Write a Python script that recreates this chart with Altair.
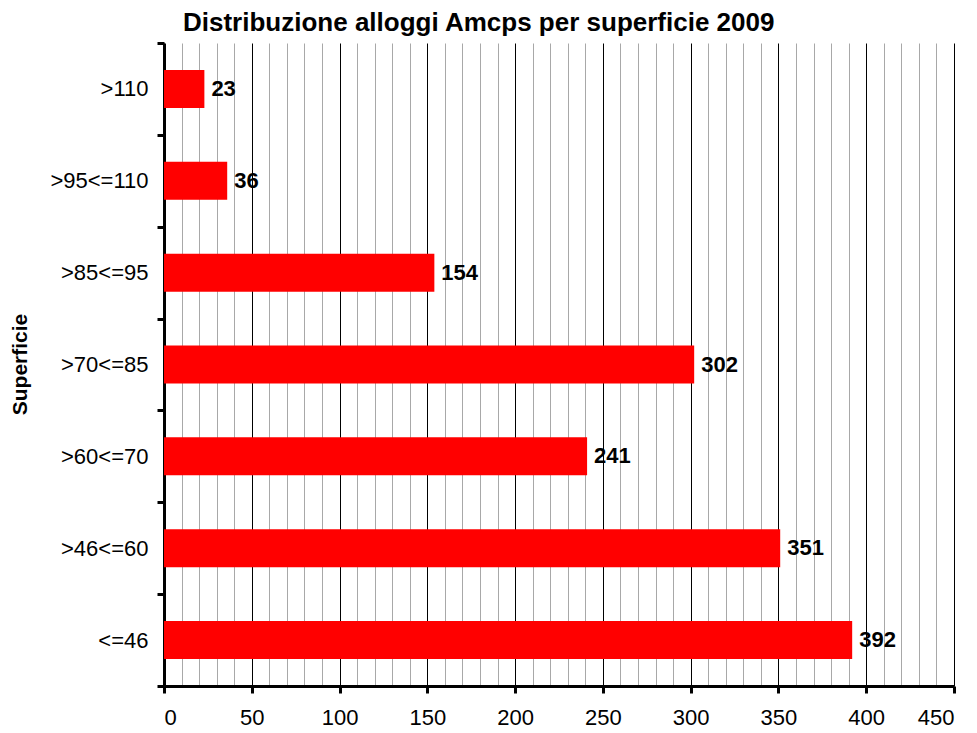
import altair as alt
import pandas as pd

categories = [">110", ">95<=110", ">85<=95", ">70<=85", ">60<=70", ">46<=60", "<=46"]
values = [23, 36, 154, 302, 241, 351, 392]
x_ticks = list(range(0, 451, 10))

df = pd.DataFrame({"cat": categories, "val": values})

FONT = "Liberation Sans, Arial, sans-serif"
major = "datum.value % 50 === 0"

y = alt.Y(
    "cat:N",
    sort=categories,
    title="Superficie",
    scale=alt.Scale(paddingInner=0, paddingOuter=0),
    axis=alt.Axis(
        tickBand="extent",
        grid=False,
        domainColor="black",
        domainWidth=3,
        tickColor="black",
        tickWidth=3,
        tickSize=7,
        labelFont=FONT,
        labelFontSize=22,
        labelColor="black",
        labelPadding=9,
        titleFont=FONT,
        titleFontSize=21,
        titleFontWeight="bold",
        titleColor="black",
        titleX=-144,
        titleY=321,
        titleAngle=270,
        titleAlign="center",
        titleBaseline="middle",
    ),
)

x = alt.X(
    "val:Q",
    title=None,
    scale=alt.Scale(domain=[0, 450], nice=False),
    axis=alt.Axis(
        values=x_ticks,
        tickCount=100,
        labelOverlap=False,
        labelExpr="datum.value % 50 === 0 ? datum.label : ''",
        grid=True,
        gridColor={"condition": {"test": major, "value": "#000000"}, "value": "#a8a8a8"},
        gridWidth=1,
        domainColor="black",
        domainWidth=3,
        tickColor="black",
        tickWidth=3,
        tickSize=7,
        tickOpacity={"condition": {"test": major, "value": 1}, "value": 0},
        labelFont=FONT,
        labelFontSize=22,
        labelColor="black",
        labelPadding=14,
    ),
)

bars = alt.Chart(df).mark_bar(color="#FF0000", size=38).encode(x=x, y=y)
labels = alt.Chart(df).mark_text(
    align="left", baseline="middle", dx=7, fontSize=22, fontWeight="bold",
    font=FONT, color="black"
).encode(x=alt.X("val:Q"), y=alt.Y("cat:N", sort=categories), text="val:Q")

chart = (
    alt.layer(bars, labels)
    .properties(
        width=790,
        height=643,
        autosize=alt.AutoSizeParams(type="none"),
        padding={"left": 156, "top": 35, "right": 10, "bottom": 44},
        title=alt.TitleParams(
            "Distribuzione alloggi Amcps per superficie 2009",
            anchor="start",
            frame="group",
            dx=19,
            dy=14,
            offset=10,
            font=FONT,
            fontSize=26,
            fontWeight="bold",
            color="black",
        ),
    )
    .configure_view(stroke=None)
)

chart.save("out.html", embed_options={"renderer": "svg", "actions": False})
